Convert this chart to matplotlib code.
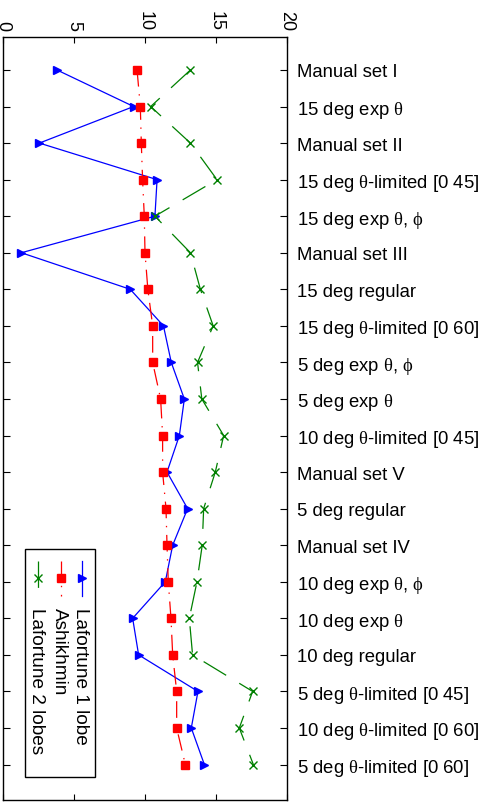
import matplotlib
matplotlib.use('Agg')
import matplotlib.pyplot as plt
import numpy as np

plt.rcParams['font.family'] = ['Liberation Sans', 'DejaVu Sans']
plt.rcParams['mathtext.fontset'] = 'custom'
plt.rcParams['mathtext.rm'] = 'Liberation Serif'
plt.rcParams['mathtext.it'] = 'Liberation Serif:italic'
plt.rcParams['lines.scale_dashes'] = False

TH = r'$\mathrm{\theta}$'
PH = r'$\mathrm{\phi}$'

categories = [
	"Manual set I",
	"15 deg exp " + TH,
	"Manual set II",
	"15 deg " + TH + "-limited [0 45]",
	"15 deg exp " + TH + ", " + PH,
	"Manual set III",
	"15 deg regular",
	"15 deg " + TH + "-limited [0 60]",
	"5 deg exp " + TH + ", " + PH,
	"5 deg exp " + TH,
	"10 deg " + TH + "-limited [0 45]",
	"Manual set V",
	"5 deg regular",
	"Manual set IV",
	"10 deg exp " + TH + ", " + PH,
	"10 deg exp " + TH,
	"10 deg regular",
	"5 deg " + TH + "-limited [0 45]",
	"10 deg " + TH + "-limited [0 60]",
	"5 deg " + TH + "-limited [0 60]",
]

lafortune1 = [3.8, 9.2, 2.56, 10.85, 10.7, 1.29, 8.96, 11.3, 11.85, 12.77,
	12.42, 11.55, 13.0, 11.95, 11.43, 9.13, 9.55, 13.73, 13.26, 14.18]
ashikhmin = [9.44, 9.67, 9.74, 9.83, 9.95, 10.0, 10.2, 10.54, 10.54, 11.1,
	11.24, 11.24, 11.48, 11.55, 11.64, 11.83, 11.95, 12.23, 12.23, 12.84]
lafortune2 = [13.2, 10.4, 13.2, 15.07, 10.7, 13.2, 13.9, 14.8, 13.7, 14.0,
	15.54, 14.95, 14.13, 14.03, 13.66, 13.12, 13.35, 17.58, 16.64, 17.63]

x_ticks = [0, 5, 10, 15, 20]

pos = np.arange(1, len(categories) + 1)

fig = plt.figure(figsize=(4.85, 8.03), dpi=100)
ax = fig.add_axes([3/485, 2/803, 284/485, 763.3/803])

dashdot = (0, (12, 5.5, 1, 5.5))
dashed = (0, (19, 11))

series = [
	(lafortune1, 'blue', '-', '>', 5.5, "Lafortune 1 lobe"),
	(ashikhmin, 'red', dashdot, 's', 5.3, "Ashikhmin"),
	(lafortune2, 'green', dashed, 'x', 5.5, "Lafortune 2 lobes"),
]
for vals, col, ls, mk, ms, lab in series:
	ax.plot(vals, pos, color=col, linestyle=ls, lw=0.9, marker=mk, ms=ms,
		mfc=col, mec=col, mew=1.0)

ax.set_xlim(0, 20)
ax.set_ylim(20.97, 0.09)
ax.set_xticks(x_ticks)
ax.set_xticklabels([str(t) for t in x_ticks])
ax.set_yticks(pos)
ax.set_yticklabels(categories)
ax.tick_params(axis='x', top=True, bottom=True, labeltop=True, labelbottom=False,
	direction='in', length=4, labelsize=13, labelrotation=-90, pad=5)
ax.tick_params(axis='y', left=True, right=True, labelleft=False, labelright=True,
	direction='in', length=5, labelsize=13.3, pad=7)
for s in ax.spines.values():
	s.set_linewidth(1.0)

# legend box drawn by hand so the entries can run vertically
box = plt.Rectangle((0.0775, 0.030), 0.2465, 0.299, transform=ax.transAxes,
	facecolor='white', edgecolor='black', lw=1.0, zorder=5)
ax.add_patch(box)
entry_x = [0.277, 0.203, 0.124]
for (vals, col, ls, mk, ms, lab), ex in zip(series, entry_x):
	ax.plot([ex, ex], [0.3135, 0.2677], transform=ax.transAxes, color=col,
		linestyle=ls, lw=0.9, zorder=6, clip_on=False)
	ax.plot([ex], [0.2906], transform=ax.transAxes, color=col, marker=mk, ms=ms,
		mfc=col, mec=col, mew=1.0, zorder=6, clip_on=False)
	ax.text(ex - 0.005, 0.2528, lab, transform=ax.transAxes, rotation=-90,
		ha='center', va='top', fontsize=13.7, zorder=7)

fig.savefig('out.png', dpi=100)
